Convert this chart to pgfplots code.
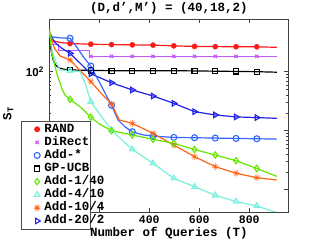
\documentclass[border=0pt]{standalone}
\usepackage{fontspec}
\setmainfont{Liberation Mono}
\newfontfamily\sansb{Liberation Sans}
\usepackage{pgfplots}
\pgfplotsset{compat=1.18}
\definecolor{cRand}{RGB}{255,26,26}
\definecolor{cDir}{RGB}{195,90,245}
\definecolor{cAddS}{RGB}{51,102,255}
\definecolor{cG}{RGB}{100,230,0}
\definecolor{cAq}{RGB}{120,240,220}
\definecolor{cOr}{RGB}{255,100,20}
\definecolor{cDB}{RGB}{35,35,230}
\begin{document}
\begin{tikzpicture}
\begin{axis}[
  at={(49.3pt,28pt)}, anchor=south west,
  scale only axis, width=239pt, height=192.7pt,
  xmin=0, xmax=956, ymode=log, ymin=0.419, ymax=773,
  xtick={0,200,400,600,800}, xticklabels={,,400,600,800},
  ytick={1,10,100},
  yticklabels={,,{\sansb\bfseries 10\textsuperscript{2}}},
  /pgf/number format/assume math mode=true,
  xticklabel style={font=\fontsize{11.5}{13}\selectfont\bfseries},
  yticklabel style={font=\fontsize{11.5}{13}\selectfont, xshift=-2pt},
  tick align=inside, major tick length=4pt, minor tick length=2pt,
  axis line style={black!75, line width=0.8pt},
  every tick/.style={black!75, line width=0.5pt},
  every axis title shift=0pt,
  title={(D,d',M') = (40,18,2)},
  title style={font=\fontsize{12.5}{14}\selectfont\bfseries, at={(axis description cs:0.5,1)}, anchor=center, yshift=11.5pt},
  xlabel={Number of Queries (T)},
  xlabel style={font=\fontsize{12.5}{14}\selectfont\bfseries, at={(axis description cs:0.5,-0.109)}, anchor=center},
  ylabel={S\textsubscript{T}},
  ylabel style={font=\fontsize{12.5}{14}\selectfont\bfseries, at={(axis description cs:-0.172,0.51)}, anchor=center},
  legend style={at={(axis description cs:-0.12,0.474)}, anchor=north west,
    draw=black!70, fill=white, line width=0.6pt, inner xsep=13pt, inner ysep=2.8pt,
    row sep=2.1pt, column sep=2pt,
    font=\fontsize{12.5}{14}\selectfont\bfseries,
    nodes={inner ysep=0pt, text height=8.5pt, text depth=2.5pt}},
  legend cell align=left,
]
% RAND
\addplot[cRand, line width=1.2pt, forget plot] coordinates {(1,400)(10,340)(40,315)(83,300)(166,292)(249,288)(332,285)(415,282)(498,274)(581,268)(664,266)(747,265)(830,264)(910,259)};
\addplot[cRand, only marks, mark=*, mark size=2.6pt, forget plot] coordinates {(83,300)(166,292)(249,288)(332,285)(415,282)(498,274)(581,268)(664,266)(747,265)(830,264)};
% DiRect
\addplot[cDir, line width=1.2pt, forget plot] coordinates {(1,290)(38,290)(38,227)(160,227)(160,182)(910,182)};
\addplot[cDir, only marks, mark=x, mark size=2.3pt, mark options={line width=1.2pt}, forget plot] coordinates {(166,182)(249,182)(332,182)(415,182)(498,182)(581,182)(664,182)(747,182)(830,182)};
% GP-UCB
\addplot[black, line width=1.2pt, forget plot] coordinates {(1,420)(5,260)(10,200)(16,155)(25,130)(40,115)(60,110)(83,107)(166,105)(249,104)(332,104)(415,104)(498,104)(581,103)(664,102)(747,101)(830,100)(910,98)};
\addplot[black, only marks, mark=square, mark size=2.6pt, mark options={line width=1.1pt}, forget plot] coordinates {(83,107)(166,105)(249,104)(332,104)(415,104)(498,104)(581,103)(664,102)(747,101)(830,100)};
% Add-20/2
\addplot[cDB, line width=1.2pt, forget plot] coordinates {(1,470)(20,320)(50,250)(83,205)(166,92)(249,65)(332,49)(415,38.7)(498,29.1)(581,21)(664,18.5)(747,17.1)(830,16.7)(910,16.2)};
\addplot[cDB, only marks, mark=triangle, mark size=3.2pt, mark options={rotate=-90, line width=1.1pt}, forget plot] coordinates {(83,205)(166,92)(249,65)(332,49)(415,38.7)(498,29.1)(581,21)(664,18.5)(747,17.1)(830,16.7)};
% Add-*
\addplot[cAddS, line width=1.2pt, forget plot] coordinates {(1,450)(10,390)(40,375)(83,368)(110,260)(140,170)(166,125)(190,80)(210,56)(230,38)(249,27)(275,15.2)(303,11.6)(332,9.6)(375,8.5)(415,8.1)(498,7.7)(581,7.6)(664,7.5)(747,7.4)(830,7.3)(910,7.2)};
\addplot[cAddS, only marks, mark=o, mark size=3pt, mark options={line width=1.1pt}, forget plot] coordinates {(83,368)(166,125)(249,27)(332,9.6)(415,8.1)(498,7.7)(581,7.6)(664,7.5)(747,7.4)(830,7.3)};
% Add-10/4
\addplot[cOr, line width=1.2pt, forget plot] coordinates {(1,480)(20,252)(43,185)(83,158)(166,68)(210,42)(249,28.4)(280,15.2)(332,13.3)(415,9.0)(498,5.7)(581,3.63)(664,2.46)(747,1.90)(830,1.60)(910,1.46)};
\addplot[cOr, only marks, mark=10-pointed star, mark size=3.4pt, forget plot] coordinates {(83,158)(166,68)(249,28.4)(332,13.3)(415,9.0)(498,5.7)(581,3.63)(664,2.46)(747,1.90)(830,1.60)};
% Add-4/10
\addplot[cAq, line width=1.2pt, forget plot] coordinates {(1,480)(10,230)(23,158)(43,107)(83,104)(123,100)(143,64)(166,31)(190,22.4)(220,15)(249,10.3)(290,7)(332,4.84)(415,2.8)(498,1.56)(581,1.125)(664,0.80)(747,0.63)(830,0.53)(910,0.41)};
\addplot[cAq, only marks, mark=triangle, mark size=3.2pt, mark options={line width=1.1pt}, forget plot] coordinates {(83,104)(166,31)(249,10.3)(332,4.84)(415,2.8)(498,1.56)(581,1.125)(664,0.80)(747,0.63)(830,0.53)};
% Add-1/40
\addplot[cG, line width=1.2pt, forget plot] coordinates {(1,520)(10,205)(30,94)(50,52)(63,40)(83,34)(123,25.5)(166,17)(200,13)(249,10)(332,8.45)(415,7.15)(498,6.1)(581,4.8)(664,3.87)(747,3.1)(830,2.29)(910,1.68)};
\addplot[cG, only marks, mark=diamond, mark size=3.2pt, mark options={line width=1.1pt}, forget plot] coordinates {(83,34)(166,17)(249,10)(332,8.45)(415,7.15)(498,6.1)(581,4.8)(664,3.87)(747,3.1)(830,2.29)};
% legend
\addlegendimage{only marks, mark=*, cRand, mark size=2.6pt}
\addlegendentry{\makebox[31pt][l]{RAND}}
\addlegendimage{only marks, mark=x, cDir, mark size=2.3pt, mark options={line width=1.2pt}}
\addlegendentry{\makebox[31pt][l]{DiRect}}
\addlegendimage{only marks, mark=o, cAddS, mark size=3pt, mark options={line width=1.1pt}}
\addlegendentry{\makebox[31pt][l]{Add-*}}
\addlegendimage{only marks, mark=square, black, mark size=2.6pt, mark options={line width=1.1pt}}
\addlegendentry{\makebox[31pt][l]{GP-UCB}}
\addlegendimage{only marks, mark=diamond, cG, mark size=3.2pt, mark options={line width=1.1pt}}
\addlegendentry{\makebox[31pt][l]{Add-1/40}}
\addlegendimage{only marks, mark=triangle, cAq, mark size=3.2pt, mark options={line width=1.1pt}}
\addlegendentry{\makebox[31pt][l]{Add-4/10}}
\addlegendimage{only marks, mark=10-pointed star, cOr, mark size=3.4pt}
\addlegendentry{\makebox[31pt][l]{Add-10/4}}
\addlegendimage{only marks, mark=triangle, cDB, mark size=3.2pt, mark options={rotate=-90, line width=1.1pt}}
\addlegendentry{\makebox[31pt][l]{Add-20/2}}
\end{axis}
\pgfresetboundingbox
\path[use as bounding box] (0,0) rectangle (319pt,240pt);
\end{tikzpicture}
\end{document}
